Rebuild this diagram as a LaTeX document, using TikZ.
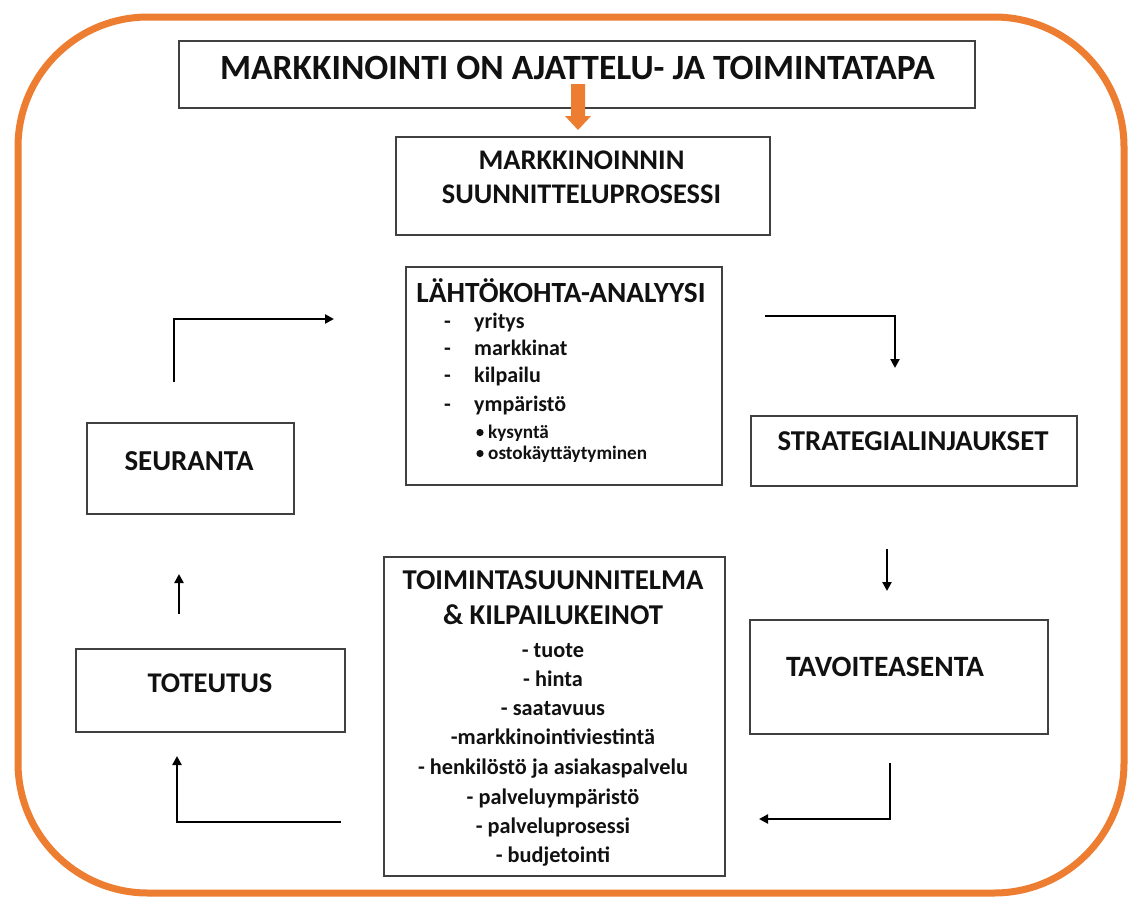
\documentclass[tikz,border=0pt]{standalone}
\usepackage{fontspec}
\setmainfont{Carlito}
\usetikzlibrary{arrows.meta}
\definecolor{orng}{HTML}{ED7D31}
\definecolor{boxgray}{HTML}{404040}
\definecolor{ink}{HTML}{111111}
\newcommand{\fz}[1]{\bfseries\fontsize{#1}{#1}\selectfont}
\tikzset{
  box/.style={draw=boxgray, line width=1.5pt, rectangle, inner sep=0pt},
  flow/.style={line width=2.6pt, -{Triangle[length=9pt,width=9pt]}},
  txt/.style={inner sep=0pt, anchor=base, text=ink},
}
\begin{document}
\begin{tikzpicture}[x=1pt,y=-1pt]
\useasboundingbox (0,0) rectangle (1130,897);
\draw[orng, line width=7pt, rounded corners=130pt] (18,17) rectangle (1124,893);

% title
\node[box, minimum width=796pt, minimum height=67pt] (title) at (577,74.5) {};
\node[txt, font=\fz{35.5}] (tl) at (577.5,79) {MARKKINOINTI ON AJATTELU- JA TOIMINTATAPA};
% orange arrow
\fill[orng] (571,84) -- (585,84) -- (585,116) -- (591,116) -- (578,130) -- (565,116) -- (571,116) -- cycle;

\node[box, minimum width=374pt, minimum height=98pt] (proc) at (583,186) {};
\node[txt, font=\fz{28.4}] (proc1) at (581.5,169) {MARKKINOINNIN};
\node[txt, font=\fz{28.4}] (proc2) at (581.5,203) {SUUNNITTELUPROSESSI};

% lahtokohta
\node[box, minimum width=316pt, minimum height=218pt] (lahto) at (564,376) {};
\node[txt, font=\fz{29.3}] (lh) at (561,302) {LÄHTÖKOHTA-ANALYYSI};
\begin{scope}[every node/.append style={font=\fz{22}}]
\node[txt, anchor=base west] (d1) at (444,328) {-};
\node[txt, anchor=base west] (l1) at (474,328) {yritys};
\node[txt, anchor=base west] (d2) at (444,355) {-};
\node[txt, anchor=base west] (l2) at (474,355) {markkinat};
\node[txt, anchor=base west] (d3) at (444,382) {-};
\node[txt, anchor=base west] (l3) at (474,382) {kilpailu};
\node[txt, anchor=base west] (d4) at (444,411) {-};
\node[txt, anchor=base west] (l4) at (474,411) {ympäristö};
\end{scope}
\fill[ink] (480,432.5) circle (3.6pt);
\fill[ink] (480,453.5) circle (3.6pt);
\node[txt, anchor=base west, font=\fz{19.2}] (b1) at (488,438) {kysyntä};
\node[txt, anchor=base west, font=\fz{19.2}] (b2) at (488,459) {ostokäyttäytyminen};

% strategialinjaukset
\node[box, minimum width=326pt, minimum height=70pt] (strat) at (914,451) {};
\node[txt, font=\fz{28.75}] (st) at (913,450) {STRATEGIALINJAUKSET};

% tavoiteasenta
\node[box, minimum width=298pt, minimum height=114pt] (tav) at (899,677) {};
\node[txt, font=\fz{29.5}] (tv) at (885,676) {TAVOITEASENTA};

% toimintasuunnitelma
\node[box, minimum width=341pt, minimum height=319pt] (toim) at (554.5,716.5) {};
\begin{scope}[every node/.append style={font=\fz{28.7}}]
\node[txt] (t1) at (553,589) {TOIMINTASUUNNITELMA};
\node[txt] (t2) at (553,624) {\& KILPAILUKEINOT};
\end{scope}
\begin{scope}[every node/.append style={font=\fz{22.3}}]
\node[txt] (i1) at (553,657) {- tuote};
\node[txt] (i2) at (553,686) {- hinta};
\node[txt] (i3) at (553,715) {- saatavuus};
\node[txt] (i4) at (553,744) {-markkinointiviestintä};
\node[txt] (i5) at (553,774) {- henkilöstö ja asiakaspalvelu};
\node[txt] (i6) at (553,804) {- palveluympäristö};
\node[txt] (i7) at (553,833) {- palveluprosessi};
\node[txt] (i8) at (553,862) {- budjetointi};
\end{scope}

% toteutus
\node[box, minimum width=269pt, minimum height=83pt] (tot) at (210.5,690.5) {};
\node[txt, font=\fz{28.5}] (tt) at (210,692) {TOTEUTUS};

% seuranta
\node[box, minimum width=207pt, minimum height=91pt] (seu) at (190.5,468.5) {};
\node[txt, font=\fz{28.9}] (se) at (189,470) {SEURANTA};

% connector end points
\coordinate (a1s) at (174,382);
\coordinate (a1e) at (334,319);
\coordinate (a2s) at (765,316);
\coordinate (a2e) at (895,368);
\coordinate (a3s) at (887,549);
\coordinate (a3e) at (887,591);
\coordinate (a4s) at (890,763);
\coordinate (a4e) at (759,819);
\coordinate (a5s) at (341,822);
\coordinate (a5e) at (177,756);
\coordinate (a6s) at (179,614);
\coordinate (a6e) at (179,574);

\draw[flow] (a1s) |- (a1e);
\draw[flow] (a2s) -| (a2e);
\draw[flow] (a3s) -- (a3e);
\draw[flow] (a4s) |- (a4e);
\draw[flow] (a5s) -| (a5e);
\draw[flow] (a6s) -- (a6e);
\end{tikzpicture}
\end{document}
